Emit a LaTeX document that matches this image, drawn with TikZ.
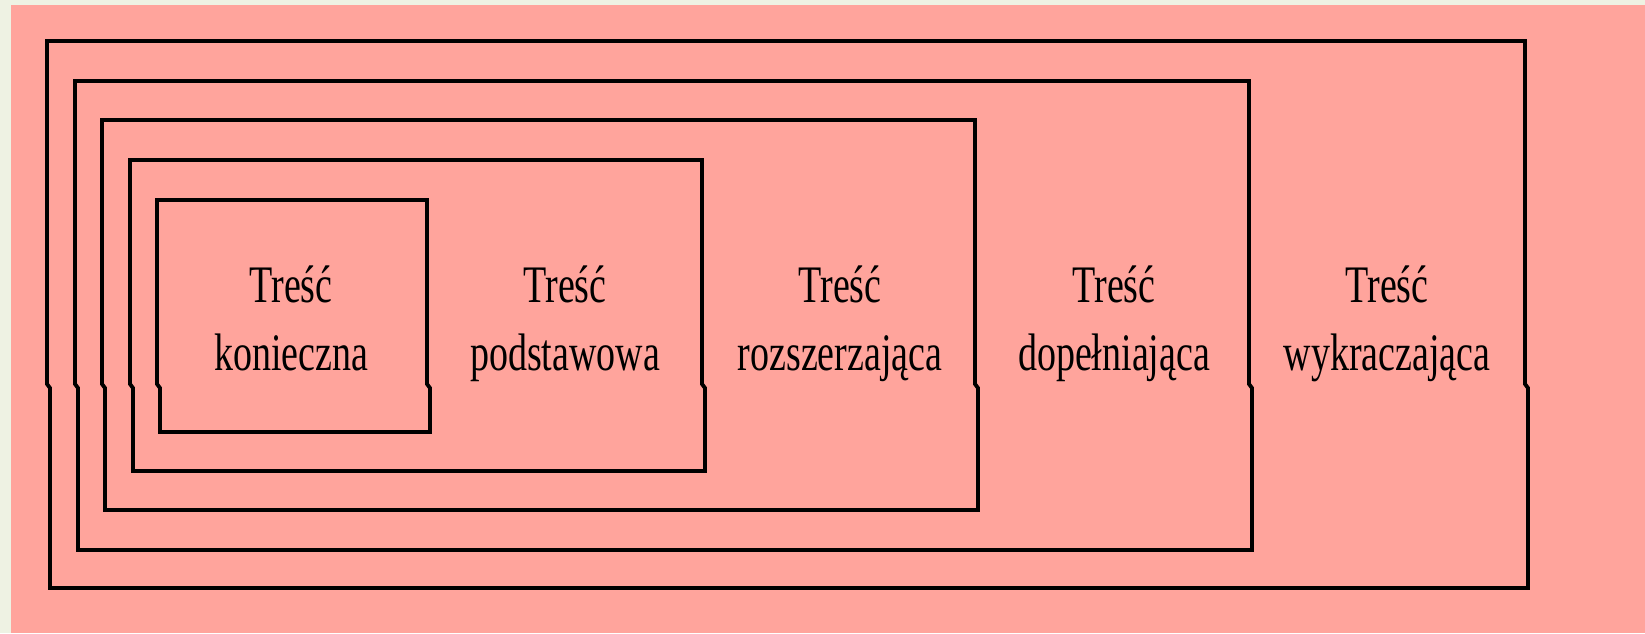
\documentclass[tikz,border=0pt]{standalone}
\usepackage{fontspec}
\setmainfont{Liberation Serif}[FakeStretch=0.72]
\usepackage{tikz}
\definecolor{pagegreen}{HTML}{EEF2E3}
\definecolor{boxpink}{HTML}{FFA49C}
\newcommand{\jogbox}[4]{%
  \draw[ramka] (#1,#2) -- (#3,#2) -- (#3,384) -- (#3+3,388) -- (#3+3,#4)
    -- (#1+3,#4) -- (#1+3,388) -- (#1,384) -- cycle;}

\begin{document}
\begin{tikzpicture}[x=0.01cm,y=-0.01cm,
  ramka/.style={draw=black,line width=1.1pt,line join=miter},
  tresc/.style={align=center,inner sep=0pt,anchor=base,
    font=\fontsize{15}{19.2}\selectfont}]
\fill[pagegreen] (0,0) rectangle (1645,633);
\fill[boxpink] (11,5) rectangle (1645,633);
\useasboundingbox (0,0) rectangle (1645,633);

\jogbox{47}{41}{1525}{588}
\jogbox{75}{81}{1249}{550}
\jogbox{102}{120}{975}{510}
\jogbox{130}{160}{702}{471}
\jogbox{157}{200}{427}{432}

\node[tresc] (konieczna) at (291,370) {Treść\\konieczna};
\node[tresc] (podstawowa) at (565,370) {Treść\\podstawowa};
\node[tresc] (rozszerzajaca) at (840,370) {Treść\\rozszerzająca};
\node[tresc] (dopelniajaca) at (1114,370) {Treść\\dopełniająca};
\node[tresc] (wykraczajaca) at (1387,370) {Treść\\wykraczająca};
\end{tikzpicture}
\end{document}
